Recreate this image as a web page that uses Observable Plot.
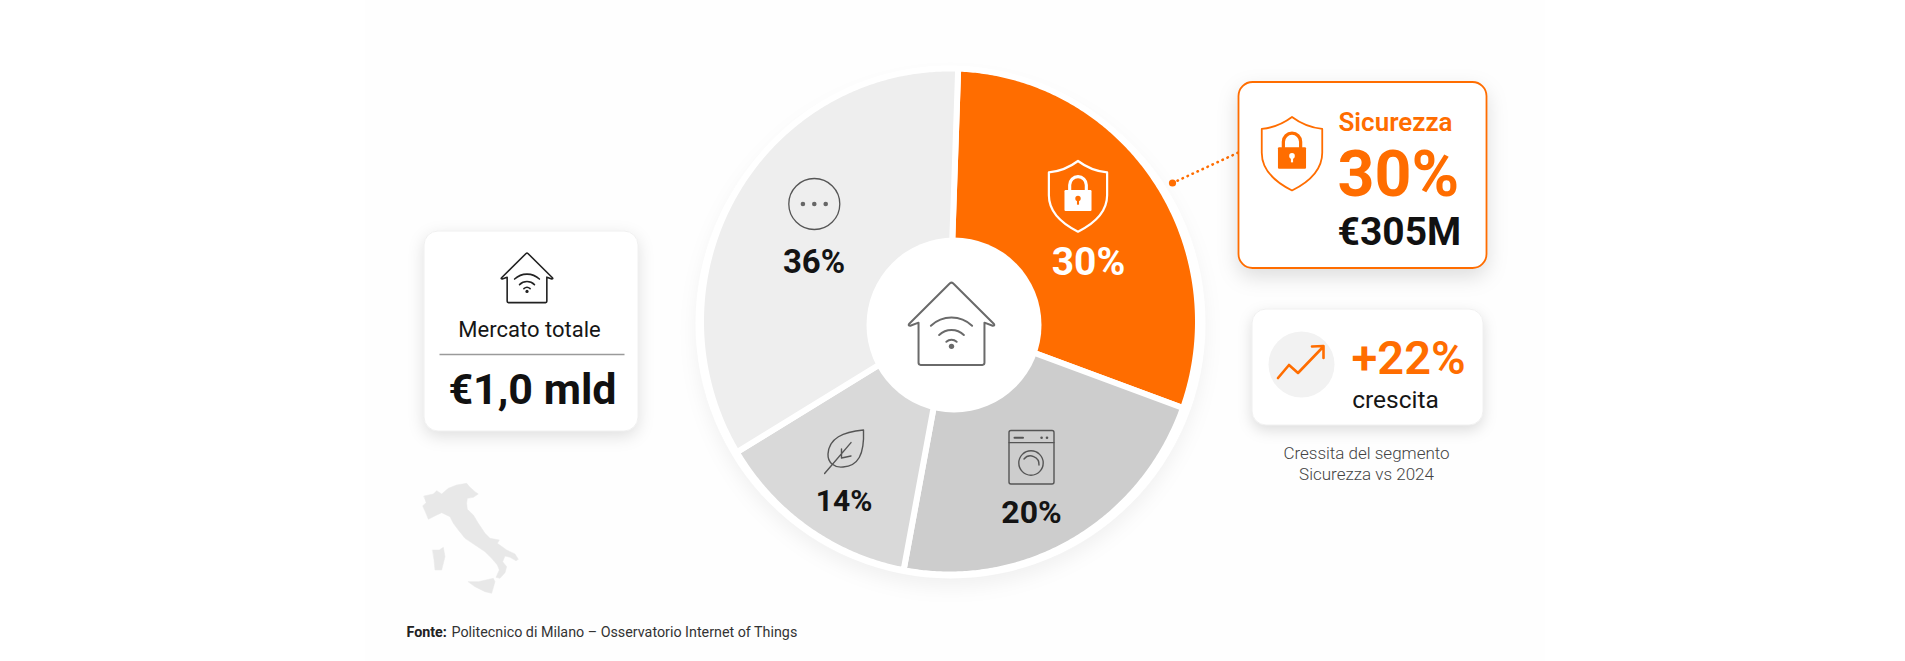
<!DOCTYPE html>
<html lang="it">
<head>
<meta charset="utf-8">
<title>Mercato Smart Home</title>
<script src="https://cdn.jsdelivr.net/npm/d3@7"></script>
<script src="https://cdn.jsdelivr.net/npm/@observablehq/plot@0.6"></script>
<style>
html,body{margin:0;padding:0;background:#fff;overflow:hidden}
svg{display:block}
</style>
</head>
<body>
<script>
// ---- data ----
const segments = ["Sicurezza", "Elettrodomestici", "Energia", "Altro"];
const labelled = ["30%", "20%", "14%", "36%"];
const drawnShare = [30, 22.4, 13.4, 34.2];   // sweep of each slice as drawn in the picture
const sliceColors = ["#ff6d00", "#cdcdcd", "#d9d9d9", "#eeeeee"];
const labelColors = ["#ffffff", "#141414", "#141414", "#141414"];

// ---- layout ----
const W = 1905, H = 661;
const C = {x: 949, y: 321}, Rx = 248.5, Ry = 253, startDeg = 2;
const ORANGE = "#ff6d00", INK = "#111111";
const labelPos = [[1088, 262.5, 39], [1031, 512.5, 32], [843.5, 501, 30], [813.5, 262, 33]];
const FONT = "Roboto";

let a = startDeg;
const wedge = [];
drawnShare.forEach((s, i) => {
  const a1 = a + s * 3.6;
  wedge.push({k: segments[i], x: C.x, y: C.y});
  for (let d = a; d < a1; d += 0.5) wedge.push({k: segments[i], x: C.x + Rx * Math.sin(d * Math.PI / 180), y: C.y - Ry * Math.cos(d * Math.PI / 180)});
  wedge.push({k: segments[i], x: C.x + Rx * Math.sin(a1 * Math.PI / 180), y: C.y - Ry * Math.cos(a1 * Math.PI / 180)});
  wedge.push({k: segments[i], x: C.x, y: C.y});
  a = a1;
});
const labelRows = segments.map((k, i) => ({k, t: labelled[i], x: labelPos[i][0], y: labelPos[i][1], s: labelPos[i][2], c: labelColors[i]}));

const houseD = "M-41 40 L-1.5 0.8 Q0 -0.5 1.5 0.8 L41 40 Q42.5 42 40 42 L32 39 L32 78 Q32 80 30 80 L-30 80 Q-32 80 -32 78 L-32 39 L-40 42 Q-42.5 42 -41 40 Z";
const wifiD = "M-20 42 A29 29 0 0 1 20 42 M-12 51 A17 17 0 0 1 12 51 M-5 57.5 A7.5 7.5 0 0 1 5 57.5";
const shieldD = "M0 0 C8 6 18 10 28 11 L28 33 C28 50 14 61 0 68 C-14 61 -28 50 -28 33 L-28 11 C-18 10 -8 6 0 0 Z";
const lockBody = "M-12 28 H12 Q13 28 13 29 V47 Q13 48 12 48 H-12 Q-13 48 -13 47 V29 Q-13 28 -12 28 Z";
const shackle = "M-8 28 V23 A8 8 0 0 1 8 23 V28";

function icons() {
  const g = d3.create("svg:g").attr("fill", "none").attr("stroke-linecap", "round").attr("stroke-linejoin", "round");
  const house = (x, y, k, col, sw) => {
    const h = g.append("g").attr("transform", `translate(${x},${y}) scale(${k})`).attr("stroke", col).attr("stroke-width", sw / k);
    h.append("path").attr("d", houseD);
    h.append("path").attr("d", wifiD);
    h.append("circle").attr("cy", 62).attr("r", 2.6).attr("fill", col).attr("stroke", "none");
  };
  house(951.5, 282.5, 1.03, "#6a6a6a", 2);
  house(527, 253, 0.62, "#222222", 1.6);

  const shield = (x, y, k, col, hole, sw) => {
    const h = g.append("g").attr("transform", `translate(${x},${y}) scale(${k})`).attr("stroke", col).attr("stroke-width", sw / k);
    h.append("path").attr("d", shieldD);
    h.append("path").attr("d", shackle).attr("stroke-width", 3);
    h.append("path").attr("d", lockBody).attr("fill", col).attr("stroke", "none");
    h.append("circle").attr("cy", 36).attr("r", 2.6).attr("fill", hole).attr("stroke", "none");
    h.append("rect").attr("x", -1).attr("y", 36).attr("width", 2).attr("height", 6).attr("fill", hole).attr("stroke", "none");
  };
  shield(1078, 161, 1.04, "#ffffff", ORANGE, 2.2);
  shield(1292, 117, 1.08, ORANGE, "#ffffff", 1.8);

  // "altro" icon
  g.append("circle").attr("cx", 814.3).attr("cy", 204).attr("r", 25.5).attr("stroke", "#555").attr("stroke-width", 1.3);
  [-11.4, 0, 11.4].forEach(d => g.append("circle").attr("cx", 814.3 + d).attr("cy", 204).attr("r", 2.3).attr("fill", "#666"));

  // leaf
  const leaf = g.append("g").attr("stroke", "#555").attr("stroke-width", 1.4);
  leaf.append("path").attr("d", "M863.5 430 C843 432 829 438 828 454 C827.5 463 835 468 843 467 C858 466 864.5 455 863.5 430 Z");
  leaf.append("path").attr("d", "M824.6 473.5 L851 442.6 M841.5 458 L841.5 449 M841.5 458 L851 456");

  // washing machine
  const w = g.append("g").attr("stroke", "#555").attr("stroke-width", 1.4);
  w.append("rect").attr("x", 1009).attr("y", 430.5).attr("width", 45).attr("height", 53.5).attr("rx", 2);
  w.append("path").attr("d", "M1009 442.6 H1054");
  w.append("path").attr("d", "M1014.5 437.7 H1023").attr("stroke-width", 2);
  [1041.6, 1047].forEach(x => w.append("circle").attr("cx", x).attr("cy", 437.7).attr("r", 1.3).attr("fill", "#555").attr("stroke", "none"));
  w.append("circle").attr("cx", 1031).attr("cy", 463).attr("r", 12.2);
  w.append("path").attr("d", "M1024 459 A8.5 8.5 0 0 1 1039 465");

  // trend arrow
  const tr = g.append("g").attr("stroke", ORANGE).attr("stroke-width", 2.6);
  tr.append("path").attr("d", "M1278 378 L1289 365 L1298 373 L1323 347 M1312 346.5 L1323.5 346 L1323.5 358");

  // Italy
  const it = g.append("g").attr("transform", "translate(410,470) scale(0.3333)").attr("fill", "#e8e8e8").attr("stroke", "#e8e8e8").attr("stroke-width", 1.5);
  it.append("path").attr("d", "M42 78 L70 72 L80 62 L95 72 L115 55 L140 45 L170 40 L180 52 L195 65 L205 72 L190 82 L172 85 L170 100 L172 118 L190 135 L205 160 L225 190 L240 205 L268 210 L262 220 L290 240 L315 252 L325 268 L318 272 L300 262 L285 258 L278 275 L290 290 L285 308 L270 325 L258 322 L268 300 L262 285 L245 265 L225 245 L195 225 L165 205 L145 180 L130 160 L120 140 L95 128 L70 140 L55 148 L48 130 L38 108 L48 98 Z");
  it.append("path").attr("d", "M68 240 L88 240 L100 232 L105 260 L95 300 L75 300 L72 270 Z");
  it.append("path").attr("d", "M175 335 L205 335 L250 325 L255 335 L245 370 L225 365 L195 350 Z");
  return g.node();
}

const one = [{}];
const card = (x1, y1, x2, y2, stroke, sw, shadow) => Plot.rect(one, {
  x1: () => x1, x2: () => x2, y1: () => y1, y2: () => y2, rx: 14,
  fill: "#ffffff", stroke, strokeWidth: sw, imageFilter: shadow
});
const txt = (s, x, y, size, weight, color, anchor = "middle", font = FONT) => Plot.text(one, {
  x: () => x, y: () => y, text: () => s, fontSize: size, fontWeight: weight, fill: color,
  textAnchor: anchor, lineAnchor: "middle", fontFamily: font
});

const chart = Plot.plot({
  width: W, height: H, margin: 0,
  x: {domain: [0, W], range: [0, W], axis: null},
  y: {domain: [0, H], range: [0, H], axis: null},
  color: {domain: segments, range: sliceColors, legend: false},
  style: {background: "#ffffff"},
  marks: [
    Plot.rect(one, {x1: () => 365, x2: () => 1545, y1: () => 0, y2: () => H, fill: "#fefefe"}),
    // pie base ring with shadow
    Plot.dot(one, {x: () => 950, y: () => 323, r: 255, fill: "#ffffff", imageFilter: "drop-shadow(0 9px 9px rgba(0,0,0,0.05))"}),
    Plot.line(wedge, {x: "x", y: "y", z: "k", fill: "k", stroke: "#ffffff", strokeWidth: 6, strokeLinejoin: "round", curve: "linear"}),
    Plot.dot(one, {x: () => 953.5, y: () => 324.5, r: 87.5, fill: "#ffffff"}),
    Plot.text(labelRows, {x: "x", y: "y", text: "t", fontSize: "s", fill: d => d.c, fontWeight: 700, lineAnchor: "middle", fontFamily: FONT}),
    // connector
    Plot.link(one, {x1: () => 1172, y1: () => 182.5, x2: () => 1238, y2: () => 152, stroke: ORANGE, strokeWidth: 2.6, strokeDasharray: "0.5,5", strokeLinecap: "round"}),
    Plot.dot(one, {x: () => 1172, y: () => 182.5, r: 3.6, fill: ORANGE}),
    // cards
    card(424, 231, 638, 431, "#f0f0f0", 1, "drop-shadow(0 5px 8px rgba(0,0,0,0.12))"),
    card(1238.5, 82, 1486.5, 268, ORANGE, 1.8, "drop-shadow(0 8px 10px rgba(0,0,0,0.13))"),
    card(1252, 309, 1483, 425, "#f0f0f0", 1, "drop-shadow(0 5px 7px rgba(0,0,0,0.13))"),
    Plot.dot(one, {x: () => 1301, y: () => 364, r: 33, fill: "#f2f2f2"}),
    Plot.link(one, {x1: () => 439, y1: () => 354, x2: () => 624, y2: () => 354, stroke: "#9a9a9a", strokeWidth: 1.5}),
    txt("Mercato totale", 529, 329, 22, 400, "#161616"),
    txt("€1,0 mld", 532, 390, 43, 700, INK),
    txt("Sicurezza", 1338, 122, 26, 600, ORANGE, "start"),
    txt("30%", 1337, 175, 64.5, 700, ORANGE, "start"),
    txt("€305M", 1337, 232, 39, 700, INK, "start"),
    txt("+22%", 1351, 358, 47, 600, ORANGE, "start"),
    txt("crescita", 1395, 400, 24.5, 400, "#161616"),
    txt("Cressita del segmento", 1366, 453, 17, 300, "#444444"),
    txt("Sicurezza vs 2024", 1366, 474, 17, 300, "#444444"),
    txt("Fonte:", 406, 632, 14.3, 700, "#222222", "start"),
    txt("Politecnico di Milano – Osservatorio Internet of Things", 451, 632, 14.3, 400, "#333333", "start"),
    icons
  ]
});
document.body.appendChild(chart);
</script>
</body>
</html>
